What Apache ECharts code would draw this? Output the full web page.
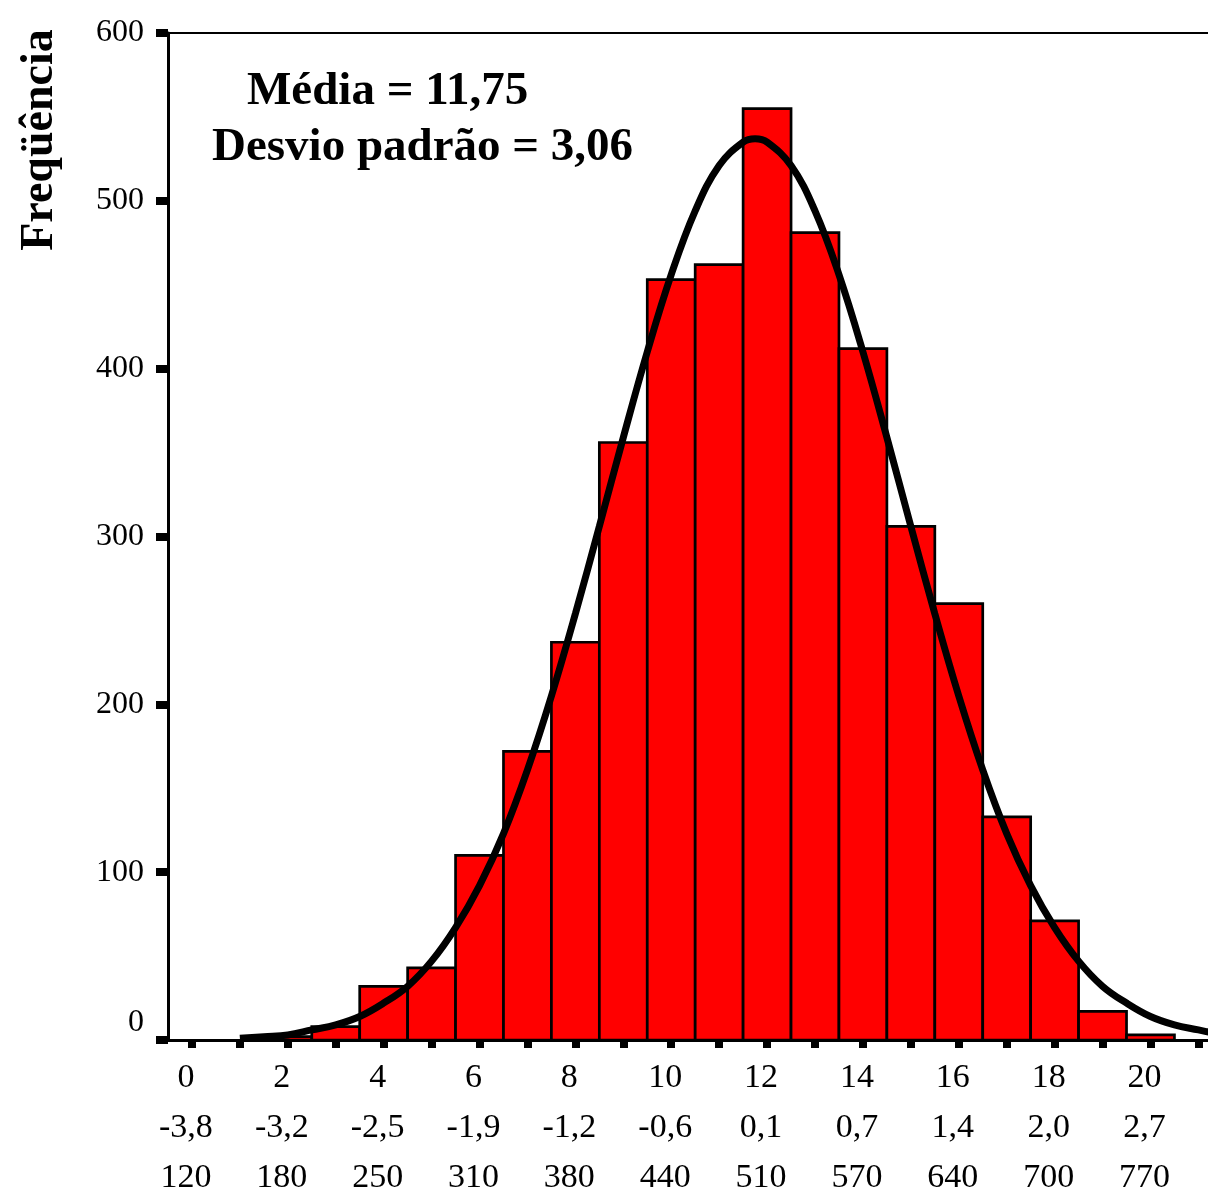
<!DOCTYPE html>
<html>
<head>
<meta charset="utf-8">
<script src="https://cdn.jsdelivr.net/npm/echarts@6/dist/echarts.min.js"></script>
<style>
  html, body { margin: 0; padding: 0; background: #fff; }
  #chart { width: 1208px; height: 1203px; }
</style>
</head>
<body>
<div id="chart"></div>
<script>
// Histogram bins (bin centres) and frequencies
var binCenters = [2, 3, 4, 5, 6, 7, 8, 9, 10, 11, 12, 13, 14, 15, 16, 17, 18, 19, 20];
var frequencies = [2, 8, 32, 43, 110, 172, 237, 356, 453, 462, 555, 481, 412, 306, 260, 133, 71, 17, 3];

// Fitted normal curve
var curveX = [1, 1.5, 2, 2.5, 3, 3.5, 4, 4.5, 5, 5.5, 6, 6.5, 7, 7.5, 8, 8.5, 9, 9.5, 10, 10.5, 11, 11.5, 11.75,
              12, 12.5, 13, 13.5, 14, 14.5, 15, 15.5, 16, 16.5, 17, 17.5, 18, 18.5, 19, 19.5, 20, 20.5, 21, 21.5];
var curveY = [1, 2, 3, 6, 9, 14, 22, 32, 47, 67, 92, 123, 161, 205, 254, 306, 359, 410, 456, 494, 521, 535, 537,
              535, 521, 494, 456, 410, 359, 306, 254, 205, 161, 123, 92, 67, 47, 32, 22, 14, 9, 6, 3];

// X tick labels (three rows)
var xTickValues = [0, 2, 4, 6, 8, 10, 12, 14, 16, 18, 20];
var zLabels = ['-3,8', '-3,2', '-2,5', '-1,9', '-1,2', '-0,6', '0,1', '0,7', '1,4', '2,0', '2,7'];
var rawLabels = ['120', '180', '250', '310', '380', '440', '510', '570', '640', '700', '770'];
var xMinorTicks = [0, 1, 2, 3, 4, 5, 6, 7, 8, 9, 10, 11, 12, 13, 14, 15, 16, 17, 18, 19, 20, 21];

var annotation1 = 'Média = 11,75';
var annotation2 = 'Desvio padrão = 3,06';
var yTitle = 'Freqüência';

var barData = binCenters.map(function (c, i) { return [c, frequencies[i]]; });
var curveData = curveX.map(function (x, i) { return [x, curveY[i]]; });

var chart = echarts.init(document.getElementById('chart'));
var serif = '"Liberation Serif", "Times New Roman", serif';

chart.setOption({
  backgroundColor: '#ffffff',
  animation: false,
  grid: { left: 168, top: 33, right: 0, bottom: 156 },
  xAxis: [{
    type: 'value',
    min: -0.5,
    max: 21.2,
    splitLine: { show: false },
    axisLine: { show: true, onZero: false, lineStyle: { color: '#000', width: 3 } },
    axisTick: { show: true, customValues: xMinorTicks, length: 8, lineStyle: { color: '#000', width: 8 } },
    axisLabel: {
      show: true,
      customValues: xTickValues,
      margin: 13,
      color: '#000',
      fontFamily: serif,
      fontSize: 34,
      lineHeight: 50,
      align: 'center',
      padding: [0, 12, 0, 0],
      formatter: function (v) {
        var idx = xTickValues.indexOf(v);
        if (idx < 0) return '';
        return xTickValues[idx] + '\n' + zLabels[idx] + '\n' + rawLabels[idx];
      }
    }
  }, {
    type: 'value',
    position: 'top',
    min: -0.5,
    max: 21.2,
    splitLine: { show: false },
    axisLine: { show: true, onZero: false, lineStyle: { color: '#000', width: 2 } },
    axisTick: { show: false },
    axisLabel: { show: false }
  }],
  yAxis: {
    type: 'value',
    min: 0,
    max: 600,
    interval: 100,
    splitLine: { show: false },
    axisLine: { show: true, onZero: false, lineStyle: { color: '#000', width: 3 } },
    axisTick: { show: true, length: 12, lineStyle: { color: '#000', width: 8 } },
    axisLabel: {
      margin: 24,
      color: '#000',
      fontFamily: serif,
      fontSize: 32,
      formatter: function (v) { return v === 0 ? '{z|0}' : String(v); },
      rich: { z: { fontFamily: serif, fontSize: 32, color: '#000', padding: [0, 0, 34, 0] } }
    }
  },
  graphic: [
    {
      type: 'text', left: 247, top: 68,
      style: { text: annotation1, font: 'bold 47px ' + serif, fill: '#000' }
    },
    {
      type: 'text', left: 212, top: 124,
      style: { text: annotation2, font: 'bold 47px ' + serif, fill: '#000' }
    },
    {
      type: 'text', x: 40, y: 140, rotation: Math.PI / 2,
      style: { text: yTitle, font: 'bold 46px ' + serif, fill: '#000', align: 'center', verticalAlign: 'middle' }
    }
  ],
  series: [
    {
      type: 'custom',
      xAxisIndex: 0,
      data: barData,
      renderItem: function (params, api) {
        var x = api.value(0), v = api.value(1);
        var p0 = api.coord([x - 0.5, v]);
        var p1 = api.coord([x + 0.5, 0]);
        return {
          type: 'rect',
          shape: { x: p0[0], y: p0[1], width: p1[0] - p0[0], height: p1[1] - p0[1] },
          style: { fill: '#ff0000', stroke: '#000000', lineWidth: 2.7 }
        };
      },
      z: 2
    },
    {
      type: 'line',
      xAxisIndex: 0,
      data: curveData,
      smooth: 0.4,
      symbol: 'none',
      lineStyle: { color: '#000', width: 7 },
      z: 3
    }
  ]
});
</script>
</body>
</html>
